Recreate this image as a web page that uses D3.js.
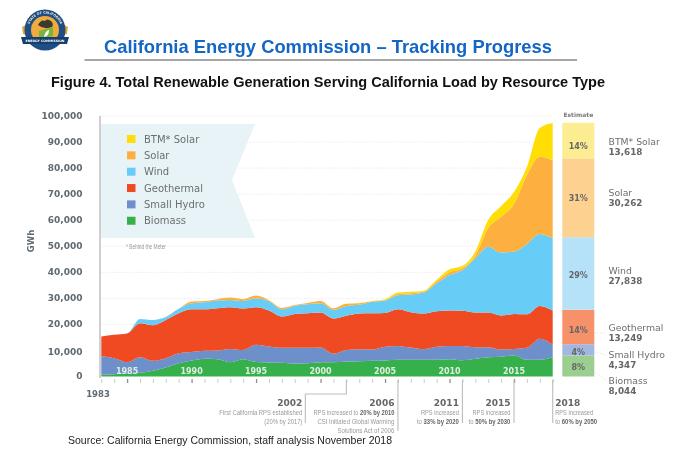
<!DOCTYPE html>
<html><head><meta charset="utf-8">
<style>html,body{margin:0;padding:0;background:#fff}svg{display:block;filter:blur(0.35px)}</style>
<script src="https://cdnjs.cloudflare.com/ajax/libs/d3/7.8.5/d3.min.js"></script>
</head><body><svg id="c" width="700" height="459"></svg>
<script>
const years = d3.range(1983, 2019);
const biomass = [640,900,1150,1400,2170,3450,5100,6100,6800,6650,5500,6650,5600,5400,5250,5000,5100,5500,5500,5750,5900,6000,6150,6400,6400,6400,6400,6650,6250,6800,7400,7550,8050,6400,6400,7500];
const smallHydro = [7260,6100,4350,6000,3830,3550,3850,3350,3050,3350,5100,3550,6550,6100,5750,6000,5900,5600,3200,4450,4600,4350,5250,5350,4700,4100,5000,5100,5500,4450,3850,2800,2550,4600,8050,4650];
const geothermal = [7450,9000,11000,13050,13700,14700,15350,16350,15950,16200,16000,15900,14450,13800,12000,13000,13300,13450,13550,13100,13670,13950,13000,14080,13600,13670,13660,13570,13450,13300,13300,13050,13440,12900,12650,13170];
const wind = [0,0,0,1650,2000,1100,1660,2300,2700,2950,2800,2900,3450,3600,2800,3200,3450,3550,3350,3800,3330,4350,4750,5370,6750,8030,10740,13680,15700,20850,25250,24170,23910,27000,27600,27680];
const solar = [0,0,0,0,0,0,0,700,500,550,900,700,1050,400,550,200,500,900,600,800,630,250,250,500,520,400,650,1000,660,1000,7200,13770,18250,26450,29700,30100];
const btmSolar = [0,0,0,0,0,0,0,0,0,0,0,0,0,0,0,0,0,0,0,0,130,130,270,500,530,300,650,1200,890,1550,3100,4060,4600,3050,11000,14200];

const legendOrder = ["BTM* Solar","Solar","Wind","Geothermal","Small Hydro","Biomass"];
const stackOrder = ["Biomass","Small Hydro","Geothermal","Wind","Solar","BTM* Solar"];
const estimateValues = [8044,4347,13249,27838,30262,13618];
const estimateLabels = ["8,044","4,347","13,249","27,838","30,262","13,618"];
const estimatePercents = ["8%","4%","14%","29%","31%","14%"];
const yTicks = [0,10000,20000,30000,40000,50000,60000,70000,80000,90000,100000];
const decadeLabels = [1985,1990,1995,2000,2005,2010,2015];
const milestones = [
  {year:2002, head:"2002", lines:[["First California RPS established"],["(20% by 2017)"]]},
  {year:2006, head:"2006", lines:[["RPS increased to ","20% by 2010"],["CSI Initiated Global Warming"],["Solutions Act of 2006"]]},
  {year:2011, head:"2011", lines:[["RPS increased"],["to ","33% by 2020"]]},
  {year:2015, head:"2015", lines:[["RPS increased"],["to ","50% by 2030"]]},
  {year:2018, head:"2018", lines:[["RPS increased"],["to ","60% by 2050"]]}
];

const colors = {"Biomass":"#35b04b","Small Hydro":"#6d8fca","Geothermal":"#f04a23","Wind":"#67cdf6","Solar":"#fdb03f","BTM* Solar":"#ffdd05"};
const tints = {"Biomass":"#9bcf90","Small Hydro":"#a3b8e0","Geothermal":"#f7916a","Wind":"#b5e2f8","Solar":"#fdd291","BTM* Solar":"#fcec92"};
const bySeries = {"Biomass":biomass,"Small Hydro":smallHydro,"Geothermal":geothermal,"Wind":wind,"Solar":solar,"BTM* Solar":btmSolar};
const rows = years.map((y,i)=>{const r={year:y};stackOrder.forEach(k=>r[k]=bySeries[k][i]);return r;});

const svg = d3.select("#c");
const grey="#5e6a72";
const W="'DejaVu Sans',sans-serif", A="'Liberation Sans',Arial,sans-serif";
const x = d3.scaleLinear().domain([1983,2018]).range([101.3,552.7]);
const y = d3.scaleLinear().domain([0,100000]).range([376.5,116]);

// Header
svg.append("text").attr("x",104).attr("y",52.5).attr("font-family",A).attr("font-weight",700).attr("font-size",18.5).attr("fill","#1366c4")
  .attr("textLength",448).attr("lengthAdjust","spacingAndGlyphs").text("California Energy Commission – Tracking Progress");
svg.append("line").attr("x1",84.5).attr("x2",577).attr("y1",60).attr("y2",60).attr("stroke","#8a8a8a").attr("stroke-width",1.6);
svg.append("text").attr("x",51).attr("y",87).attr("font-family",A).attr("font-weight",700).attr("font-size",14.5).attr("fill","#111")
  .attr("textLength",554).attr("lengthAdjust","spacingAndGlyphs").text("Figure 4. Total Renewable Generation Serving California Load by Resource Type");
svg.append("text").attr("x",68).attr("y",444).attr("font-family",A).attr("font-size",10.5).attr("fill","#222")
  .attr("textLength",324).attr("lengthAdjust","spacingAndGlyphs").text("Source: California Energy Commission, staff analysis November 2018");

// Seal
const seal = svg.append("g").attr("transform","translate(45,30)");
seal.append("path").attr("d","M-23,-3 L-14,-8 L-14,6 L-22,4 Z M23,-3 L14,-8 L14,6 L22,4 Z").attr("fill","#e9a33c");
seal.append("circle").attr("r",20.5).attr("fill","#1d4f86");
seal.append("circle").attr("r",14).attr("fill","#efab3e");
seal.append("path").attr("d","M-7,-5 q3,-6 7,-4 q2,-3 6,0 q3,3 1,6 q-8,3 -14,-2Z").attr("fill","#3a3a2e");
seal.append("path").attr("d","M-6,10 L-6,1 L8,-3 L8,6 Z").attr("fill","#79b43f");
seal.append("path").attr("d","M-1,7 q1,-6 5,-7 q0,6 -5,7Z").attr("fill","#fff");
seal.append("path").attr("d","M-24,7 L24,7 L22,14 L-22,14 Z").attr("fill","#173f6e");
seal.append("text").attr("y",12).attr("text-anchor","middle").attr("font-family",W).attr("font-weight",700).attr("font-size",3.2).attr("fill","#fff").text("ENERGY COMMISSION");
svg.append("defs").append("path").attr("id","sealArc").attr("d","M-16.5,0 A16.5,16.5 0 0 1 16.5,0");
seal.append("text").attr("font-family",W).attr("font-weight",700).attr("font-size",3.2).attr("fill","#f4e7c4").append("textPath").attr("href","#sealArc").attr("startOffset","50%").attr("text-anchor","middle").text("STATE OF CALIFORNIA");

// Grid
svg.append("g").selectAll("line").data(yTicks.slice(1)).join("line")
  .attr("x1",100).attr("x2",552.7).attr("y1",d=>y(d)).attr("y2",d=>y(d))
  .attr("stroke","#e6e6e6").attr("stroke-width",0.8).attr("stroke-dasharray","1.5 1.5");

// Condensed text: the reference's narrow face is drawn by squeezing Liberation Sans horizontally
function narrow(parts, width, px0, ly, alignRight, size){
  const g = svg.append("g");
  const nodes = parts.map((s,j)=>g.append("text").attr("font-family",A).attr("font-size",size)
    .attr("font-weight",j===1?700:400).attr("fill",j===1?"#666":"#9a9a9a").attr("xml:space","preserve").style("white-space","pre").text(s));
  const ws = nodes.map(n=>n.node().getComputedTextLength());
  const total = d3.sum(ws), sx = width/total;
  let cx = 0;
  nodes.forEach((n,j)=>{n.attr("x",cx); cx+=ws[j];});
  g.attr("transform",`translate(${alignRight?px0-width:px0},${ly}) scale(${sx},1)`);
}

// Legend banner
svg.append("path").attr("d","M100.5,124 L255,124 L232,180 L255,238 L100.5,238 Z").attr("fill","#e8f3f8");
const lg = svg.append("g").selectAll("g").data(legendOrder).join("g")
  .attr("transform",(d,i)=>`translate(127,${139+i*16.35})`);
lg.append("rect").attr("y",-4).attr("width",8.5).attr("height",8).attr("fill",d=>colors[d]);
lg.append("text").attr("x",17).attr("y",3.5).attr("font-family",W).attr("font-size",10).attr("fill","#6b6f72").text(d=>d);
narrow(["* Behind the Meter"],40,126,249,false,6.5);

// Stacked areas
const stack = d3.stack().keys(stackOrder)(rows);
const area = d3.area().x(d=>x(d.data.year)).y0(d=>y(d[0])).y1(d=>y(d[1])).curve(d3.curveMonotoneX);
svg.append("g").selectAll("path").data(stack).join("path")
  .attr("d",area).attr("fill",d=>colors[d.key]);

// Decade labels inside the chart
svg.append("g").selectAll("text").data(decadeLabels).join("text")
  .attr("x",d=>x(d)).attr("y",373.5).attr("text-anchor","middle")
  .attr("font-family",W).attr("font-weight",700).attr("font-size",8).attr("fill","#dfeee0").text(d=>d);

// Axes
const yAxis = d3.axisLeft(y).tickValues(yTicks).tickSize(0).tickPadding(0).tickFormat(d3.format(","));
const gy = svg.append("g").attr("transform","translate(82.5,-0.5)").call(yAxis);
gy.select(".domain").remove();
gy.selectAll("text").attr("font-family",W).attr("font-weight",700).attr("font-size",9).attr("fill",grey)
  .attr("dy",d=>d===10000?"0.55em":"0.32em");
svg.append("line").attr("x1",100).attr("x2",100).attr("y1",116).attr("y2",378).attr("stroke","#cfcfcf").attr("stroke-width",2);
svg.append("text").attr("transform","translate(33.5,241) rotate(-90)").attr("text-anchor","middle")
  .attr("font-family",W).attr("font-weight",700).attr("font-size",8.5).attr("fill",grey).text("GWh");

const xAxis = d3.axisBottom(x).tickValues(years).tickSize(4).tickFormat("");
const gx = svg.append("g").attr("transform","translate(0,379)").call(xAxis);
gx.select(".domain").remove();
gx.selectAll("line").attr("stroke",d=>d%5===0?"#8f8f8f":"#bdbdbd").attr("stroke-width",d=>d%5===0?1.3:0.8);
svg.append("text").attr("x",98).attr("y",396.5).attr("text-anchor","middle").attr("font-family",W).attr("font-weight",700).attr("font-size",8.5).attr("fill",grey).text(years[0]);

// Milestones
const lineY = {2002:423,2006:431,2011:423,2015:423,2018:423};
const lens = {"First California RPS established":83,"(20% by 2017)":38,"RPS increased to 20% by 2010":81,"CSI Initiated Global Warming":77,"Solutions Act of 2006":57,"RPS increased":38,"to 33% by 2020":42,"to 50% by 2030":42,"to 60% by 2050":42};
milestones.forEach(m=>{
  const px=x(m.year), right=m.year===2018;
  const tx = right?px+2.5 : m.year===2002? px-44 : px-3.5;
  const p = m.year===2002
    ? `M${px},380 V394 H${px-41} V423`
    : `M${px},380 V${lineY[m.year]}`;
  svg.append("path").attr("d",p).attr("fill","none").attr("stroke","#bdbdbd").attr("stroke-width",1.1);
  svg.append("text").attr("x",tx).attr("y",406).attr("text-anchor",right?"start":"end")
    .attr("font-family",W).attr("font-weight",700).attr("font-size",9).attr("fill","#666").text(m.head);
  m.lines.forEach((parts,i)=>narrow(parts,lens[parts.join("")],tx,414.7+i*9.2,!right,8));
});

// Estimate column
const est = d3.stack().keys(stackOrder)([Object.fromEntries(stackOrder.map((k,i)=>[k,estimateValues[i]]))]);
const ex0=562.3, ex1=594.3;
svg.append("text").attr("x",(ex0+ex1)/2).attr("y",116.5).attr("text-anchor","middle").attr("font-family",W).attr("font-weight",700).attr("font-size",6).attr("fill","#777").text("Estimate");
const pctY=[367,352,330,275,198,146], nameY=[383.5,357.5,331,273.5,196,145];
const col = svg.append("g").selectAll("g").data(est).join("g");
col.append("rect").attr("x",ex0).attr("width",ex1-ex0).attr("y",d=>y(d[0][1])).attr("height",d=>y(d[0][0])-y(d[0][1])).attr("fill",d=>tints[d.key]);
col.append("text").attr("x",(ex0+ex1)/2).attr("y",(d,i)=>pctY[i]+3).attr("text-anchor","middle").attr("font-family",W).attr("font-weight",700).attr("font-size",8).attr("fill","#666").text((d,i)=>estimatePercents[i]);
col.append("text").attr("x",608.5).attr("y",(d,i)=>nameY[i]).attr("font-family",W).attr("font-size",9.3).attr("fill","#6b6f72").text(d=>d.key);
col.append("text").attr("x",608.5).attr("y",(d,i)=>nameY[i]+10).attr("font-family",W).attr("font-weight",700).attr("font-size",8.8).attr("fill","#666").text((d,i)=>estimateLabels[i]);
svg.append("g").selectAll("path").data(["M595,333H605","M595,352L606,355","M595,372L606,380"]).join("path")
  .attr("d",d=>d).attr("fill","none").attr("stroke","#cfcfcf").attr("stroke-width",0.7).attr("stroke-dasharray","1 1.5");
</script></body></html>
